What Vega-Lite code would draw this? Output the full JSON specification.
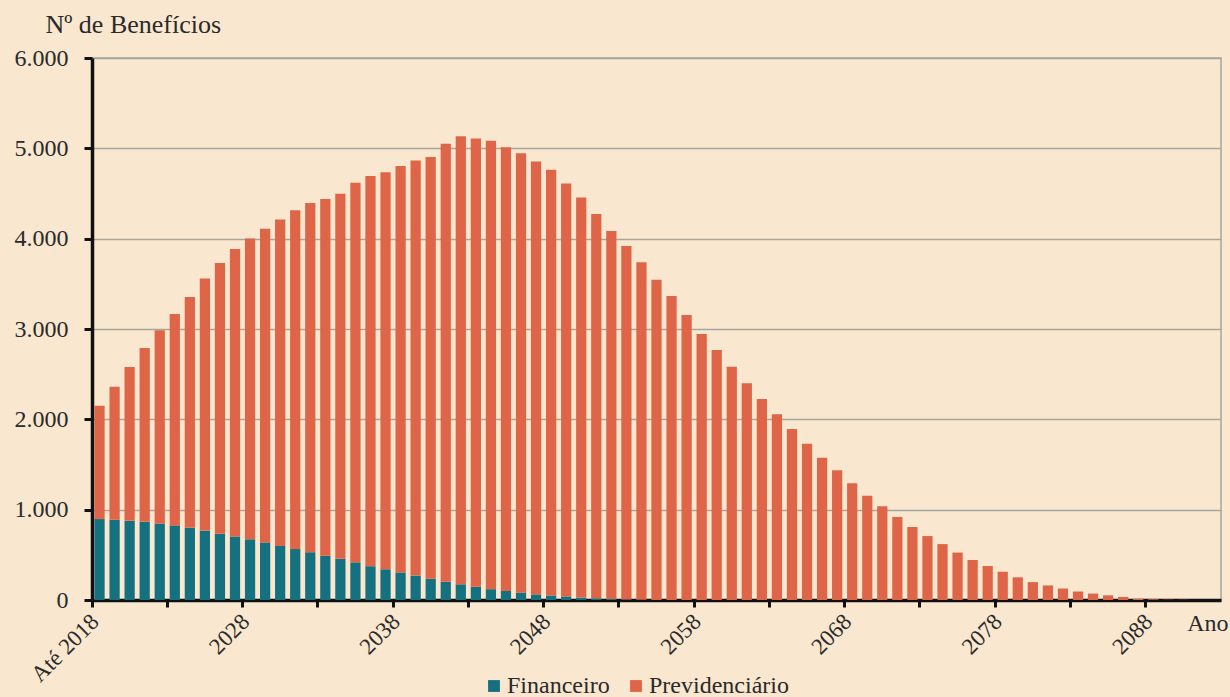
{
  "$schema": "https://vega.github.io/schema/vega-lite/v6.json",
  "width": 1129,
  "height": 542,
  "autosize": "none",
  "padding": {"left": 92, "top": 58, "right": 9, "bottom": 97},
  "background": "#F9E7CF",
  "config": {
    "view": {"stroke": "#A8A8A0", "strokeWidth": 1.5},
    "font": "Liberation Serif"
  },
  "data": {
    "values": [
      {"ano": "Até 2018", "Financeiro": 896, "Previdenciário": 1254},
      {"ano": "2019", "Financeiro": 888, "Previdenciário": 1474},
      {"ano": "2020", "Financeiro": 876, "Previdenciário": 1704},
      {"ano": "2021", "Financeiro": 865, "Previdenciário": 1926},
      {"ano": "2022", "Financeiro": 845, "Previdenciário": 2140},
      {"ano": "2023", "Financeiro": 826, "Previdenciário": 2339},
      {"ano": "2024", "Financeiro": 799, "Previdenciário": 2556},
      {"ano": "2025", "Financeiro": 768, "Previdenciário": 2792},
      {"ano": "2026", "Financeiro": 733, "Previdenciário": 2999},
      {"ano": "2027", "Financeiro": 703, "Previdenciário": 3183},
      {"ano": "2028", "Financeiro": 672, "Previdenciário": 3331},
      {"ano": "2029", "Financeiro": 637, "Previdenciário": 3473},
      {"ano": "2030", "Financeiro": 598, "Previdenciário": 3614},
      {"ano": "2031", "Financeiro": 564, "Previdenciário": 3751},
      {"ano": "2032", "Financeiro": 529, "Previdenciário": 3867},
      {"ano": "2033", "Financeiro": 490, "Previdenciário": 3950},
      {"ano": "2034", "Financeiro": 456, "Previdenciário": 4042},
      {"ano": "2035", "Financeiro": 417, "Previdenciário": 4203},
      {"ano": "2036", "Financeiro": 374, "Previdenciário": 4319},
      {"ano": "2037", "Financeiro": 340, "Previdenciário": 4395},
      {"ano": "2038", "Financeiro": 305, "Previdenciário": 4500},
      {"ano": "2039", "Financeiro": 270, "Previdenciário": 4596},
      {"ano": "2040", "Financeiro": 235, "Previdenciário": 4670},
      {"ano": "2041", "Financeiro": 201, "Previdenciário": 4850},
      {"ano": "2042", "Financeiro": 174, "Previdenciário": 4960},
      {"ano": "2043", "Financeiro": 147, "Previdenciário": 4962},
      {"ano": "2044", "Financeiro": 120, "Previdenciário": 4964},
      {"ano": "2045", "Financeiro": 100, "Previdenciário": 4911},
      {"ano": "2046", "Financeiro": 81, "Previdenciário": 4864},
      {"ano": "2047", "Financeiro": 62, "Previdenciário": 4793},
      {"ano": "2048", "Financeiro": 50, "Previdenciário": 4713},
      {"ano": "2049", "Financeiro": 39, "Previdenciário": 4571},
      {"ano": "2050", "Financeiro": 27, "Previdenciário": 4428},
      {"ano": "2051", "Financeiro": 19, "Previdenciário": 4254},
      {"ano": "2052", "Financeiro": 12, "Previdenciário": 4072},
      {"ano": "2053", "Financeiro": 6, "Previdenciário": 3914},
      {"ano": "2054", "Financeiro": 3, "Previdenciário": 3735},
      {"ano": "2055", "Financeiro": 1, "Previdenciário": 3545},
      {"ano": "2056", "Financeiro": 0, "Previdenciário": 3364},
      {"ano": "2057", "Financeiro": 0, "Previdenciário": 3155},
      {"ano": "2058", "Financeiro": 0, "Previdenciário": 2944},
      {"ano": "2059", "Financeiro": 0, "Previdenciário": 2767},
      {"ano": "2060", "Financeiro": 0, "Previdenciário": 2581},
      {"ano": "2061", "Financeiro": 0, "Previdenciário": 2400},
      {"ano": "2062", "Financeiro": 0, "Previdenciário": 2226},
      {"ano": "2063", "Financeiro": 0, "Previdenciário": 2056},
      {"ano": "2064", "Financeiro": 0, "Previdenciário": 1892},
      {"ano": "2065", "Financeiro": 0, "Previdenciário": 1730},
      {"ano": "2066", "Financeiro": 0, "Previdenciário": 1574},
      {"ano": "2067", "Financeiro": 0, "Previdenciário": 1437},
      {"ano": "2068", "Financeiro": 0, "Previdenciário": 1292},
      {"ano": "2069", "Financeiro": 0, "Previdenciário": 1155},
      {"ano": "2070", "Financeiro": 0, "Previdenciário": 1037},
      {"ano": "2071", "Financeiro": 0, "Previdenciário": 919},
      {"ano": "2072", "Financeiro": 0, "Previdenciário": 808},
      {"ano": "2073", "Financeiro": 0, "Previdenciário": 708},
      {"ano": "2074", "Financeiro": 0, "Previdenciário": 619},
      {"ano": "2075", "Financeiro": 0, "Previdenciário": 525},
      {"ano": "2076", "Financeiro": 0, "Previdenciário": 443},
      {"ano": "2077", "Financeiro": 0, "Previdenciário": 376},
      {"ano": "2078", "Financeiro": 0, "Previdenciário": 313},
      {"ano": "2079", "Financeiro": 0, "Previdenciário": 251},
      {"ano": "2080", "Financeiro": 0, "Previdenciário": 198},
      {"ano": "2081", "Financeiro": 0, "Previdenciário": 161},
      {"ano": "2082", "Financeiro": 0, "Previdenciário": 127},
      {"ano": "2083", "Financeiro": 0, "Previdenciário": 94},
      {"ano": "2084", "Financeiro": 0, "Previdenciário": 71},
      {"ano": "2085", "Financeiro": 0, "Previdenciário": 52},
      {"ano": "2086", "Financeiro": 0, "Previdenciário": 34},
      {"ano": "2087", "Financeiro": 0, "Previdenciário": 15},
      {"ano": "2088", "Financeiro": 0, "Previdenciário": 8},
      {"ano": "2089", "Financeiro": 0, "Previdenciário": 4},
      {"ano": "2090", "Financeiro": 0, "Previdenciário": 2},
      {"ano": "2091", "Financeiro": 0, "Previdenciário": 1},
      {"ano": "2092", "Financeiro": 0, "Previdenciário": 0}
    ]
  },
  "transform": [
    {"fold": ["Financeiro", "Previdenciário"], "as": ["tipo", "valor"]}
  ],
  "mark": {"type": "bar"},
  "encoding": {
    "x": {
      "field": "ano",
      "type": "nominal",
      "sort": null,
      "scale": {"paddingInner": 0.32, "paddingOuter": 0.16},
      "axis": {
        "values": ["Até 2018", "2023", "2028", "2033", "2038", "2043", "2048", "2053", "2058", "2063", "2068", "2073", "2078", "2083", "2088"],
        "labelExpr": "indexof(['Até 2018','2028','2038','2048','2058','2068','2078','2088'], datum.label) >= 0 ? datum.label : ''",
        "bandPosition": -0.235,
        "labelAngle": -45,
        "labelAlign": "right",
        "labelBaseline": "top",
        "labelOffset": -12,
        "labelOverlap": false,
        "labelFont": "Liberation Serif",
        "labelFontSize": 23,
        "labelColor": "#2a2a2a",
        "labelPadding": 3,
        "tickColor": "#111111",
        "tickWidth": 3,
        "tickSize": 7,
        "domainColor": "#111111",
        "domainWidth": 3.5,
        "grid": false,
        "title": "Ano",
        "titleAngle": 0,
        "titleX": 1136,
        "titleY": 30,
        "titleAlign": "right",
        "titleBaseline": "alphabetic",
        "titleFont": "Liberation Serif",
        "titleFontSize": 24,
        "titleFontWeight": "normal",
        "titleColor": "#2a2a2a"
      }
    },
    "y": {
      "field": "valor",
      "type": "quantitative",
      "stack": "zero",
      "scale": {"domain": [0, 6000], "nice": false},
      "axis": {
        "values": [0, 1000, 2000, 3000, 4000, 5000, 6000],
        "labelExpr": "replace(format(datum.value, ','), ',', '.')",
        "grid": true,
        "gridColor": "#A6A69E",
        "gridWidth": 1.5,
        "domainColor": "#111111",
        "domainWidth": 3.5,
        "tickColor": "#111111",
        "tickWidth": 3,
        "tickSize": 8,
        "labelPadding": 16,
        "labelFont": "Liberation Serif",
        "labelFontSize": 24,
        "labelColor": "#2a2a2a",
        "title": "Nº de Benefícios",
        "titleAngle": 0,
        "titleX": -47,
        "titleY": -26,
        "titleAlign": "left",
        "titleBaseline": "alphabetic",
        "titleFont": "Liberation Serif",
        "titleFontSize": 26,
        "titleFontWeight": "normal",
        "titleColor": "#2a2a2a"
      }
    },
    "order": {"field": "tipo", "sort": "ascending"},
    "color": {
      "field": "tipo",
      "type": "nominal",
      "scale": {"domain": ["Financeiro", "Previdenciário"], "range": ["#15707F", "#DF6548"]},
      "legend": {
        "title": null,
        "orient": "none",
        "legendX": 390,
        "legendY": 616,
        "direction": "horizontal",
        "symbolType": "square",
        "symbolSize": 140,
        "symbolStrokeWidth": 0,
        "labelFont": "Liberation Serif",
        "labelFontSize": 24,
        "labelColor": "#2a2a2a",
        "labelOffset": 1,
        "columnPadding": 14
      }
    }
  }
}
